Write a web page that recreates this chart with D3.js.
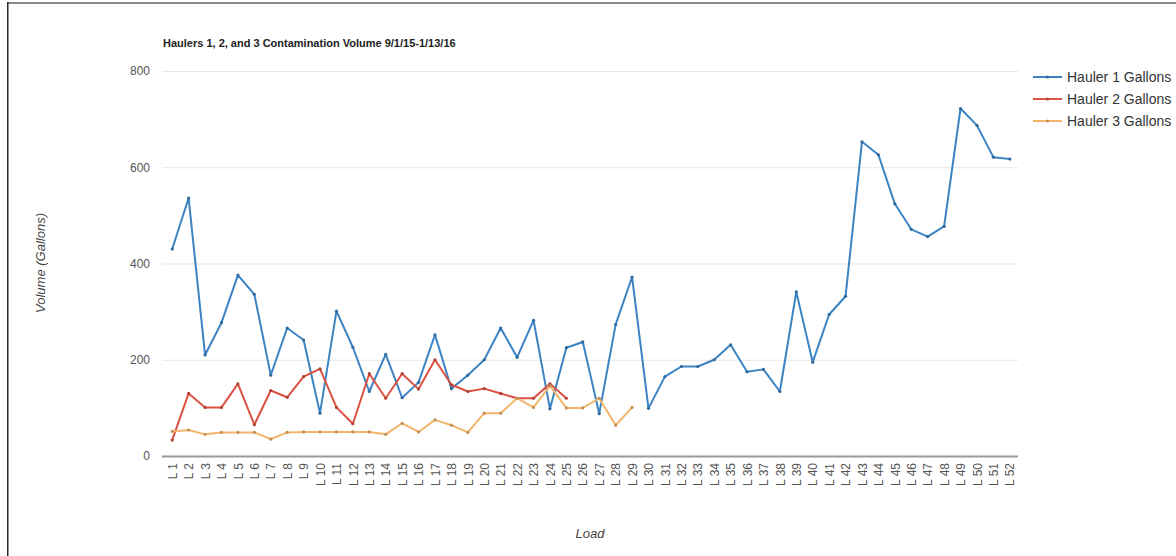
<!DOCTYPE html>
<html>
<head>
<meta charset="utf-8">
<script src="https://cdn.jsdelivr.net/npm/d3@7"></script>
<style>
  html, body { margin: 0; padding: 0; background: #fff; }
  svg { display: block; font-family: Arial, "Liberation Sans", sans-serif; }
</style>
</head>
<body>
<svg id="chart" width="1176" height="556"></svg>
<script>
const categories = ["L 1","L 2","L 3","L 4","L 5","L 6","L 7","L 8","L 9","L 10",
  "L 11","L 12","L 13","L 14","L 15","L 16","L 17","L 18","L 19","L 20",
  "L 21","L 22","L 23","L 24","L 25","L 26","L 27","L 28","L 29","L 30",
  "L 31","L 32","L 33","L 34","L 35","L 36","L 37","L 38","L 39","L 40",
  "L 41","L 42","L 43","L 44","L 45","L 46","L 47","L 48","L 49","L 50",
  "L 51","L 52"];
const hauler1 = [430,536,210,277,376,336,168,266,241,89,
  301,226,134,211,121,153,252,140,168,200,
  266,205,282,98,225,237,88,273,372,99,
  165,186,186,200,231,175,180,134,341,195,
  294,332,653,626,524,471,456,477,722,687,
  621,617];
const hauler2 = [33,130,101,101,150,65,136,122,165,181,
  101,67,171,120,171,139,200,148,134,140,
  130,120,120,150,120];
const hauler3 = [51,54,45,49,49,49,35,49,50,50,
  50,50,50,45,68,50,75,64,49,89,
  89,120,101,146,100,100,120,64,101];
const yTicks = [0,200,400,600,800];
const seriesNames = ["Hauler 1 Gallons","Hauler 2 Gallons","Hauler 3 Gallons"];
const seriesColors = ["#3c83c3","#db5243","#f3b46c"];
const seriesData = [hauler1, hauler2, hauler3];

const svg = d3.select("#chart");

// frame
svg.append("rect").attr("x",7).attr("y",2).attr("width",1169).attr("height",2).attr("fill","#8a8a8a");
svg.append("rect").attr("x",7).attr("y",2).attr("width",1.5).attr("height",554).attr("fill","#2a2a2a");

const x = d3.scalePoint().domain(categories).range([164,1018]).padding(0.5);
const y = d3.scaleLinear().domain([0,800]).range([456,71]);

// gridlines
const yAxis = d3.axisLeft(y).tickValues(yTicks).tickSize(-(1018-162)).tickPadding(12);
const gy = svg.append("g").attr("transform","translate(162,0)").call(yAxis);
gy.select(".domain").remove();
gy.selectAll(".tick line").attr("stroke", d => d === 0 ? "#9a9a9a" : "#e6e6e6")
  .attr("stroke-width", d => d === 0 ? 2 : 1);
gy.selectAll(".tick text").attr("fill","#555").style("font-size","12px")
  .attr("font-family","Arial, 'Liberation Sans', sans-serif");

// x axis labels
const xAxis = d3.axisBottom(x).tickSize(0).tickPadding(0);
const gx = svg.append("g").attr("transform","translate(0,456)").call(xAxis);
gx.select(".domain").remove();
gx.selectAll(".tick text")
  .attr("fill","#555").style("font-size","12px")
  .attr("font-family","Arial, 'Liberation Sans', sans-serif")
  .attr("transform","rotate(-90)")
  .attr("text-anchor","end")
  .attr("x",-7).attr("y",0).attr("dy","0.35em");

// lines
const line = d3.line().x((d,i) => x(categories[i])).y(d => y(d));
seriesData.forEach((data, si) => {
  svg.append("path").datum(data)
    .attr("fill","none").attr("stroke",seriesColors[si])
    .attr("stroke-width",2).attr("stroke-linejoin","round")
    .attr("d", line);
  svg.append("g").selectAll("circle").data(data).join("circle")
    .attr("cx",(d,i) => x(categories[i])).attr("cy", d => y(d))
    .attr("r",1.6).attr("fill", d3.color(seriesColors[si]).darker(0.6));
});

// title
svg.append("text").attr("x",163).attr("y",47)
  .attr("font-weight","bold").style("font-size","11px").attr("fill","#222")
  .text("Haulers 1, 2, and 3 Contamination Volume 9/1/15-1/13/16");

// axis titles
svg.append("text").attr("transform","translate(45,263) rotate(-90)")
  .attr("text-anchor","middle").attr("font-style","italic")
  .style("font-size","13px").attr("fill","#444").text("Volume (Gallons)");
svg.append("text").attr("x",590).attr("y",538)
  .attr("text-anchor","middle").attr("font-style","italic")
  .style("font-size","13px").attr("fill","#444").text("Load");

// legend
const legend = svg.append("g");
seriesNames.forEach((name, i) => {
  const ly = 77 + i * 22;
  legend.append("line").attr("x1",1033).attr("x2",1062).attr("y1",ly).attr("y2",ly)
    .attr("stroke",seriesColors[i]).attr("stroke-width",2);
  legend.append("circle").attr("cx",1047.5).attr("cy",ly).attr("r",1.6)
    .attr("fill", d3.color(seriesColors[i]).darker(0.6));
  legend.append("text").attr("x",1067).attr("y",ly).attr("dy","0.35em")
    .style("font-size","14px").attr("fill","#333").text(name);
});
</script>
</body>
</html>
